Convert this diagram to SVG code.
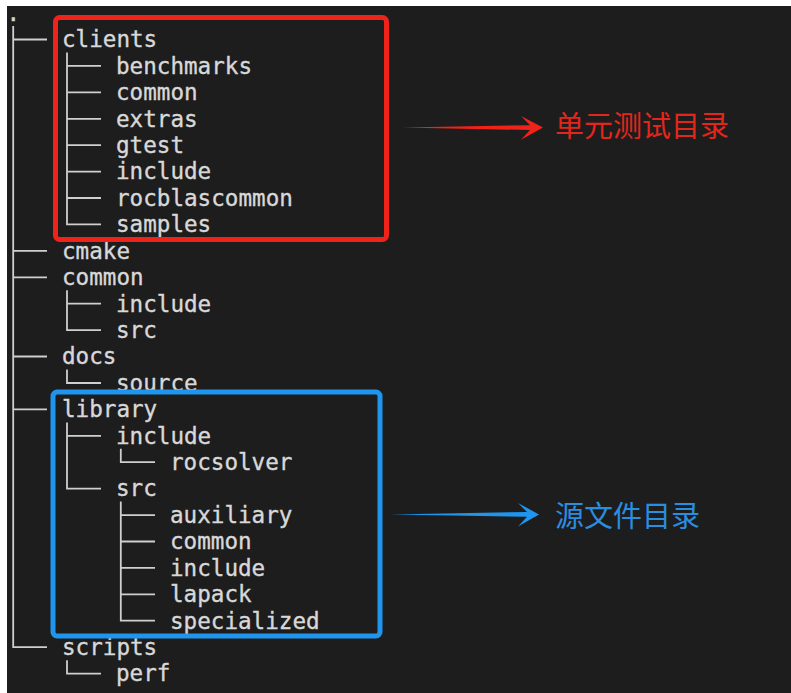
<svg xmlns="http://www.w3.org/2000/svg" width="791" height="693" viewBox="0 0 791 693">
  <style>
    .name { font-family: "DejaVu Sans Mono", "Liberation Mono", monospace; font-size: 22.6px; fill: #d8d8d8; stroke: #d8d8d8; stroke-width: 0.35; }
    .tree { fill: none; stroke: #cfcfcf; stroke-width: 1.8; }
    .note { font-family: "Noto Sans CJK SC", "Noto Sans", sans-serif; font-size: 29px; }
  </style>
  <!-- terminal window -->
  <rect x="0" y="0" width="791" height="693" fill="#ffffff"/>
  <rect x="7" y="6" width="784" height="687" fill="#1d1d1d"/>

  <!-- tree branch lines -->
  <g id="connectors" class="tree">
    <!-- root trunk and its branches -->
    <path d="M13.2,26 V647.2 H47 M13.2,39.5 H47 M13.2,250.9 H47 M13.2,277.3 H47 M13.2,356.5 H47 M13.2,409.4 H47"/>
    <!-- clients -->
    <path d="M67,52.5 V224.4 H101 M67,65.9 H101 M67,92.3 H101 M67,118.8 H101 M67,145.2 H101 M67,171.6 H101 M67,198 H101"/>
    <!-- common -->
    <path d="M67,290.3 V330.1 H101 M67,303.7 H101"/>
    <!-- docs -->
    <path d="M67,369.5 V383 H101"/>
    <!-- library -->
    <path d="M67,422.4 V488.6 H101 M67,435.8 H101"/>
    <path d="M120.8,448.8 V462.2 H155"/>
    <path d="M120.8,501.6 V620.7 H155 M120.8,515.1 H155 M120.8,541.5 H155 M120.8,567.9 H155 M120.8,594.3 H155"/>
    <!-- scripts -->
    <path d="M67,660.2 V673.6 H101"/>
  </g>

  <g id="root"><text class="name" x="6.5" y="20.9">.</text></g>
  <g id="clients"><text class="name" x="62" y="47.3">clients</text></g>
  <g id="clients-benchmarks"><text class="name" x="116" y="73.7">benchmarks</text></g>
  <g id="clients-common"><text class="name" x="116" y="100.1">common</text></g>
  <g id="clients-extras"><text class="name" x="116" y="126.6">extras</text></g>
  <g id="clients-gtest"><text class="name" x="116" y="153">gtest</text></g>
  <g id="clients-include"><text class="name" x="116" y="179.4">include</text></g>
  <g id="clients-rocblascommon"><text class="name" x="116" y="205.8">rocblascommon</text></g>
  <g id="clients-samples"><text class="name" x="116" y="232.2">samples</text></g>
  <g id="cmake"><text class="name" x="62" y="258.7">cmake</text></g>
  <g id="common"><text class="name" x="62" y="285.1">common</text></g>
  <g id="common-include"><text class="name" x="116" y="311.5">include</text></g>
  <g id="common-src"><text class="name" x="116" y="337.9">src</text></g>
  <g id="docs"><text class="name" x="62" y="364.3">docs</text></g>
  <g id="docs-source"><text class="name" x="116" y="390.8">source</text></g>
  <g id="library"><text class="name" x="62" y="417.2">library</text></g>
  <g id="library-include"><text class="name" x="116" y="443.6">include</text></g>
  <g id="library-include-rocsolver"><text class="name" x="170" y="470">rocsolver</text></g>
  <g id="library-src"><text class="name" x="116" y="496.4">src</text></g>
  <g id="library-src-auxiliary"><text class="name" x="170" y="522.9">auxiliary</text></g>
  <g id="library-src-common"><text class="name" x="170" y="549.3">common</text></g>
  <g id="library-src-include"><text class="name" x="170" y="575.7">include</text></g>
  <g id="library-src-lapack"><text class="name" x="170" y="602.1">lapack</text></g>
  <g id="library-src-specialized"><text class="name" x="170" y="628.5">specialized</text></g>
  <g id="scripts"><text class="name" x="62" y="655">scripts</text></g>
  <g id="scripts-perf"><text class="name" x="116" y="681.4">perf</text></g>

  <!-- highlight: unit tests -->
  <g id="tests-callout">
    <rect x="55.5" y="17.5" width="331" height="222" rx="4" fill="none" stroke="#f0231a" stroke-width="5"/>
    <path d="M402,127.6 L530,125.2 L521,116 L543,127.6 L521,139.8 L530,130 Z" fill="#f0231a"/>
    <text class="note" x="555" y="137" fill="#e3261c">单元测试目录</text>
  </g>

  <!-- highlight: sources -->
  <g id="sources-callout">
    <rect x="53" y="392" width="327" height="244" rx="4" fill="none" stroke="#1f95ee" stroke-width="5"/>
    <path d="M390,514.4 L527,512 L518,503 L539,514.4 L518,526.6 L527,516.8 Z" fill="#1f95ee"/>
    <text class="note" x="555" y="527" fill="#2a8ee0">源文件目录</text>
  </g>
</svg>
